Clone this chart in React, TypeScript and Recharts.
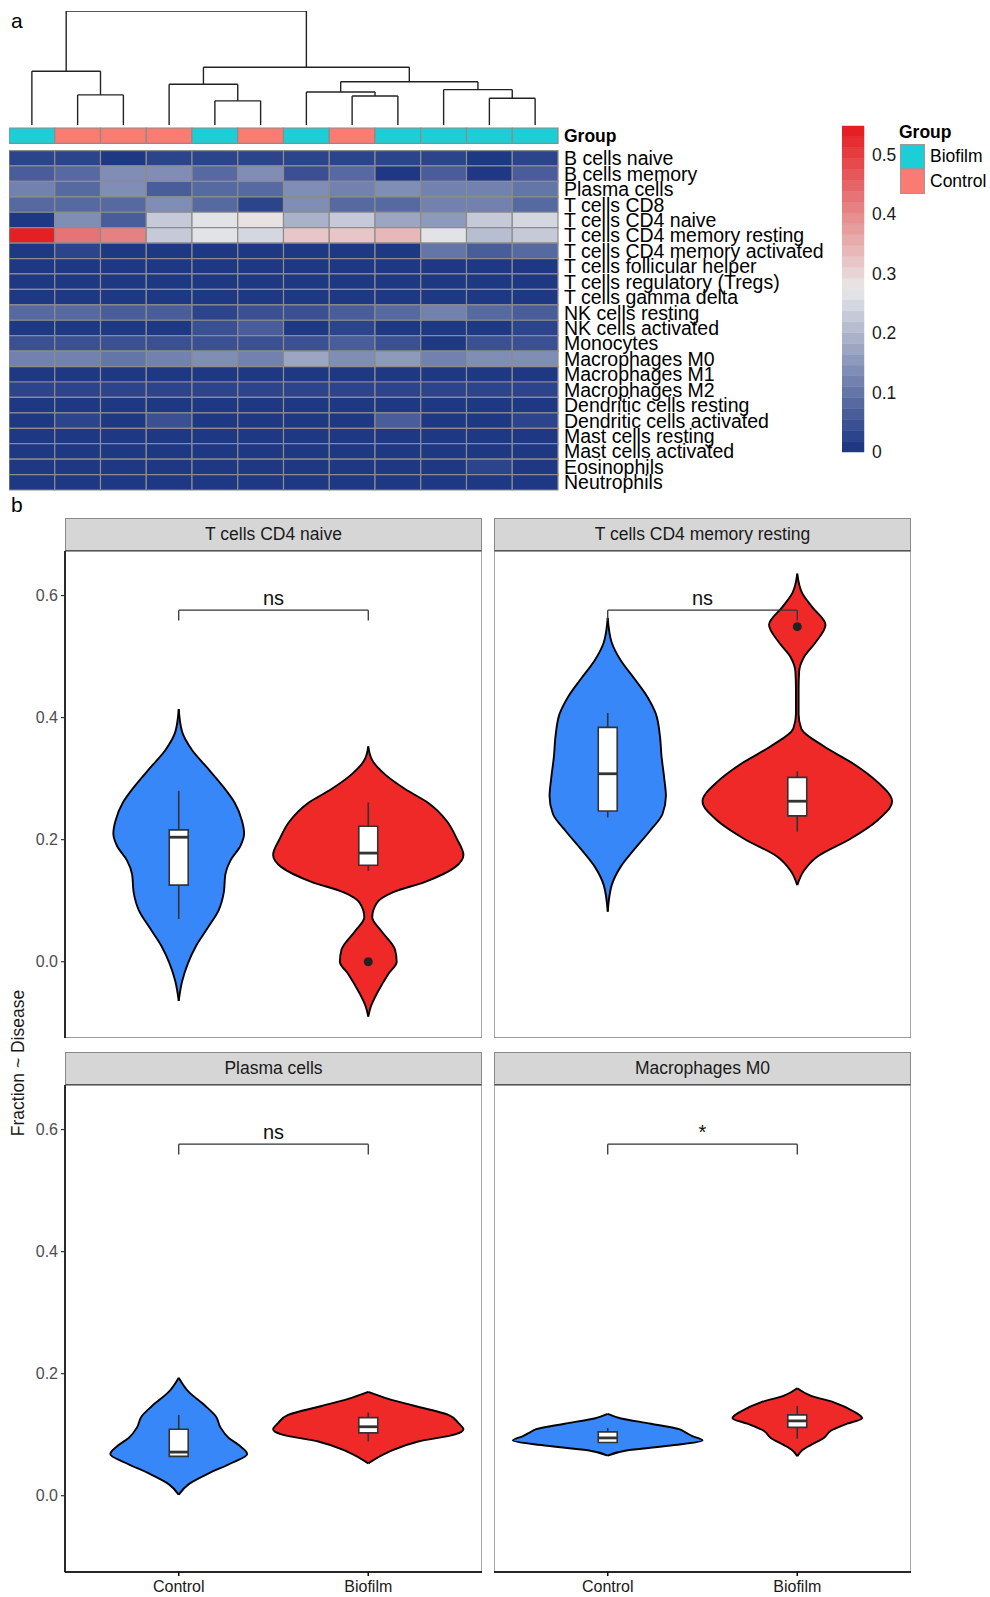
import React from "react";
import { Area, ComposedChart, ReferenceArea, ReferenceDot, ReferenceLine, XAxis, YAxis } from "recharts";

// ---- panel a: heatmap ----
const SAMPLE_GROUPS = [
  "Biofilm", "Control", "Control", "Control", "Biofilm", "Control",
  "Biofilm", "Control", "Biofilm", "Biofilm", "Biofilm", "Biofilm"
];

const CELL_TYPES = [
  "B cells naive",
  "B cells memory",
  "Plasma cells",
  "T cells CD8",
  "T cells CD4 naive",
  "T cells CD4 memory resting",
  "T cells CD4 memory activated",
  "T cells follicular helper",
  "T cells regulatory (Tregs)",
  "T cells gamma delta",
  "NK cells resting",
  "NK cells activated",
  "Monocytes",
  "Macrophages M0",
  "Macrophages M1",
  "Macrophages M2",
  "Dendritic cells resting",
  "Dendritic cells activated",
  "Mast cells resting",
  "Mast cells activated",
  "Eosinophils",
  "Neutrophils"
];

// fraction per cell type (rows) and sample (columns)
const HEAT_VALUES: number[][] = [
  [0.02, 0.02, 0.01, 0.02, 0.02, 0.02, 0.02, 0.02, 0.02, 0.02, 0.01, 0.02],
  [0.07, 0.08, 0.13, 0.13, 0.09, 0.13, 0.04, 0.08, 0.01, 0.06, 0.01, 0.06],
  [0.12, 0.09, 0.14, 0.07, 0.09, 0.08, 0.13, 0.11, 0.13, 0.11, 0.11, 0.1],
  [0.09, 0.08, 0.09, 0.13, 0.08, 0.03, 0.14, 0.08, 0.08, 0.11, 0.12, 0.08],
  [0.01, 0.13, 0.07, 0.22, 0.27, 0.28, 0.19, 0.22, 0.18, 0.16, 0.22, 0.25],
  [0.55, 0.43, 0.41, 0.23, 0.26, 0.24, 0.32, 0.32, 0.34, 0.27, 0.21, 0.23],
  [0.01, 0.03, 0.01, 0.01, 0.01, 0.01, 0.01, 0.01, 0.01, 0.1, 0.07, 0.09],
  [0.01, 0.01, 0.01, 0.01, 0.01, 0.01, 0.01, 0.01, 0.01, 0.01, 0.01, 0.01],
  [0.01, 0.01, 0.01, 0.01, 0.01, 0.01, 0.01, 0.01, 0.01, 0.01, 0.01, 0.01],
  [0.0, 0.0, 0.0, 0.0, 0.0, 0.0, 0.0, 0.0, 0.0, 0.0, 0.0, 0.0],
  [0.09, 0.09, 0.07, 0.06, 0.02, 0.05, 0.04, 0.07, 0.09, 0.12, 0.08, 0.07],
  [0.01, 0.01, 0.01, 0.01, 0.05, 0.07, 0.01, 0.02, 0.01, 0.01, 0.01, 0.02],
  [0.04, 0.05, 0.05, 0.04, 0.04, 0.04, 0.04, 0.06, 0.04, 0.01, 0.05, 0.05],
  [0.12, 0.11, 0.1, 0.11, 0.13, 0.12, 0.17, 0.13, 0.15, 0.11, 0.14, 0.13],
  [0.01, 0.01, 0.01, 0.01, 0.01, 0.01, 0.01, 0.01, 0.01, 0.01, 0.01, 0.01],
  [0.02, 0.02, 0.02, 0.02, 0.02, 0.02, 0.02, 0.02, 0.02, 0.02, 0.02, 0.02],
  [0.01, 0.01, 0.01, 0.01, 0.01, 0.01, 0.01, 0.01, 0.01, 0.01, 0.01, 0.01],
  [0.01, 0.03, 0.01, 0.05, 0.01, 0.01, 0.01, 0.01, 0.06, 0.01, 0.01, 0.03],
  [0.01, 0.01, 0.01, 0.01, 0.01, 0.01, 0.01, 0.01, 0.01, 0.01, 0.01, 0.01],
  [0.01, 0.01, 0.01, 0.01, 0.01, 0.01, 0.01, 0.01, 0.01, 0.01, 0.01, 0.01],
  [0.01, 0.01, 0.01, 0.01, 0.01, 0.01, 0.01, 0.01, 0.01, 0.01, 0.03, 0.01],
  [0.01, 0.01, 0.01, 0.01, 0.01, 0.01, 0.01, 0.01, 0.01, 0.01, 0.01, 0.01]
];

// hclust-style merges: negative = leaf (1-based column), positive = earlier merge; last value = height
const DENDRO_MERGES: [number, number, number][] = [
  [-5, -6, 0.212],
  [-11, -12, 0.235],
  [-8, -9, 0.255],
  [-2, -3, 0.264],
  [-7, 3, 0.29],
  [-10, 2, 0.31],
  [-4, 1, 0.357],
  [5, 6, 0.38],
  [-1, 4, 0.472],
  [7, 8, 0.507],
  [9, 10, 1.0]
];

const LEGEND_TICKS = [0, 0.1, 0.2, 0.3, 0.4, 0.5];
const SCALE_MAX = 0.548;
const N_BINS = 30;

// ---- panel b: violins ----
const GROUPS = ["Control", "Biofilm"];
const PANEL_TITLES = ["T cells CD4 naive", "T cells CD4 memory resting", "Plasma cells", "Macrophages M0"];
const Y_TICKS = [0, 0.2, 0.4, 0.6];

// [fraction, half width of the violin]
const VIOLIN_CONTROL: [number, number][][] = [
  [
    [-0.064, 0], [-0.032, 0.018], [-0.003, 0.048], [0.0263, 0.092], [0.0555, 0.153], [0.0847, 0.211],
    [0.114, 0.238], [0.143, 0.246], [0.166, 0.273], [0.19, 0.326], [0.21, 0.345], [0.2306, 0.334],
    [0.26, 0.296], [0.289, 0.229], [0.318, 0.15], [0.347, 0.07], [0.3766, 0.018], [0.414, 0]
  ],
  [
    [0.082, 0], [0.1255, 0.021], [0.155, 0.067], [0.184, 0.14], [0.213, 0.219], [0.242, 0.289],
    [0.2715, 0.307], [0.301, 0.298], [0.336, 0.284], [0.371, 0.275], [0.406, 0.254], [0.435, 0.207],
    [0.464, 0.14], [0.493, 0.07], [0.523, 0.021], [0.5635, 0]
  ],
  [
    [0.0017, 0], [0.019, 0.053], [0.0366, 0.158], [0.054, 0.282], [0.0685, 0.361], [0.083, 0.317],
    [0.0947, 0.264], [0.112, 0.22], [0.1295, 0.197], [0.147, 0.141], [0.17, 0.053], [0.1934, 0]
  ],
  [
    [0.0656, 0], [0.0744, 0.105], [0.083, 0.351], [0.0906, 0.5], [0.0976, 0.447], [0.1034, 0.412],
    [0.109, 0.377], [0.118, 0.228], [0.1266, 0.07], [0.134, 0]
  ]
];

const VIOLIN_BIOFILM: [number, number][][] = [
  [
    [-0.09, 0], [-0.073, 0.014], [-0.05, 0.049], [-0.02, 0.106], [0.0, 0.15], [0.02, 0.141],
    [0.05, 0.07], [0.073, 0.021], [0.096, 0.044], [0.114, 0.132], [0.131, 0.3], [0.155, 0.458],
    [0.175, 0.502], [0.2015, 0.467], [0.2306, 0.414], [0.26, 0.317], [0.283, 0.194], [0.307, 0.088],
    [0.33, 0.021], [0.353, 0]
  ],
  [
    [0.1255, 0], [0.149, 0.035], [0.172, 0.105], [0.2015, 0.281], [0.231, 0.421], [0.263, 0.5],
    [0.295, 0.421], [0.324, 0.298], [0.353, 0.14], [0.382, 0.021], [0.406, 0.007], [0.447, 0.007],
    [0.476, 0.01], [0.499, 0.035], [0.523, 0.096], [0.552, 0.149], [0.581, 0.079], [0.604, 0.026],
    [0.636, 0]
  ],
  [
    [0.053, 0], [0.0715, 0.106], [0.0889, 0.264], [0.1005, 0.458], [0.109, 0.502], [0.118, 0.479],
    [0.1324, 0.423], [0.147, 0.246], [0.1586, 0.106], [0.17, 0]
  ],
  [
    [0.0645, 0], [0.0744, 0.026], [0.083, 0.07], [0.0947, 0.14], [0.106, 0.175], [0.118, 0.263],
    [0.127, 0.342], [0.138, 0.298], [0.153, 0.193], [0.164, 0.07], [0.176, 0]
  ]
];

// [lower whisker, q1, median, q3, upper whisker]
const BOX_CONTROL = [
  [0.07, 0.1255, 0.204, 0.216, 0.28],
  [0.2365, 0.247, 0.308, 0.384, 0.4076],
  [0.0645, 0.0645, 0.0715, 0.109, 0.1324],
  [0.0871, 0.0871, 0.0947, 0.1046, 0.111]
];
const BOX_BIOFILM = [
  [0.149, 0.158, 0.178, 0.222, 0.261],
  [0.213, 0.239, 0.263, 0.302, 0.312],
  [0.089, 0.103, 0.113, 0.128, 0.1365],
  [0.0935, 0.112, 0.1226, 0.1324, 0.147]
];
const OUTLIERS_BIOFILM = [[0.0], [0.549], [], []];
const SIG_LABELS = ["ns", "ns", "ns", "*"];

const Y_DOMAIN = [-0.125, 0.673];
const X_DOMAIN = [0.4, 2.6];
const BRACKET_TOP = 0.576;
const BRACKET_END = 0.559;
const SIG_TEXT_Y = 0.596;

const FONT = '"Liberation Sans", Arial, Helvetica, sans-serif';
const BLUE = "#3787F9";
const RED = "#EF2828";
const CYAN = "#1CCFD6";
const SALMON = "#FA7B72";
const CELL_BORDER = "#8C8C8C";

const COLOR_LOW = [30, 56, 132];
const COLOR_MID = [233, 233, 233];
const COLOR_HIGH = [228, 32, 36];

function rampColor(t: number): string {
  const [a, b, f] = t < 0.5 ? [COLOR_LOW, COLOR_MID, t / 0.5] : [COLOR_MID, COLOR_HIGH, (t - 0.5) / 0.5];
  const c = a.map((v, i) => Math.round(v + (b[i] - v) * f));
  return `rgb(${c[0]},${c[1]},${c[2]})`;
}

function heatColor(v: number): string {
  const bin = Math.min(N_BINS - 1, Math.max(0, Math.floor((v / SCALE_MAX) * N_BINS)));
  return rampColor(bin / (N_BINS - 1));
}

function dendroSegments() {
  const nodes: { x: number; h: number }[] = [];
  const at = (id: number) => (id < 0 ? { x: -id - 0.5, h: 0 } : nodes[id - 1]);
  const segs: { x: number; y: number }[][] = [];
  for (const [a, b, h] of DENDRO_MERGES) {
    const pa = at(a);
    const pb = at(b);
    segs.push([{ x: pa.x, y: pa.h }, { x: pa.x, y: h }]);
    segs.push([{ x: pb.x, y: pb.h }, { x: pb.x, y: h }]);
    segs.push([{ x: pa.x, y: h }, { x: pb.x, y: h }]);
    nodes.push({ x: (pa.x + pb.x) / 2, h });
  }
  return segs;
}

const ANNOT_TOP = -1.46;
const ANNOT_BOTTOM = -0.46;
const PAD = 12;

function RowTick(props: any) {
  const { x, y, payload } = props;
  const isGroup = payload.value < 0;
  const label = isGroup ? "Group" : CELL_TYPES[Math.floor(payload.value)];
  return (
    <text
      x={x}
      y={y}
      dy="0.36em"
      textAnchor="start"
      fontSize={isGroup ? 17.5 : 19.5}
      fontWeight={isGroup ? 700 : 400}
      fill="#000"
      fontFamily={FONT}
    >
      {label}
    </text>
  );
}

function Heatmap() {
  const rowTicks = [(ANNOT_TOP + ANNOT_BOTTOM) / 2, ...CELL_TYPES.map((_, i) => i + 0.5)];
  return (
    <ComposedChart
      width={549 + 420}
      height={362 + 2 * PAD}
      margin={{ top: PAD, right: 0, bottom: PAD, left: 0 }}
      data={[]}
    >
      <XAxis type="number" dataKey="x" domain={[0, SAMPLE_GROUPS.length]} hide allowDataOverflow />
      <YAxis
        type="number"
        orientation="right"
        reversed
        domain={[ANNOT_TOP, CELL_TYPES.length]}
        allowDataOverflow
        ticks={rowTicks}
        interval={0}
        width={420}
        tickSize={0}
        tickMargin={6}
        axisLine={false}
        tickLine={false}
        tick={(p: any) => <RowTick {...p} />}
      />
      {SAMPLE_GROUPS.map((g, c) => (
        <ReferenceArea
          key={`ann-${c}`}
          x1={c}
          x2={c + 1}
          y1={ANNOT_TOP}
          y2={ANNOT_BOTTOM}
          fill={g === "Biofilm" ? CYAN : SALMON}
          fillOpacity={1}
          stroke={CELL_BORDER}
          strokeWidth={1.2}
        />
      ))}
      {HEAT_VALUES.flatMap((row, r) =>
        row.map((v, c) => (
          <ReferenceArea
            key={`cell-${r}-${c}`}
            x1={c}
            x2={c + 1}
            y1={r}
            y2={r + 1}
            fill={heatColor(v)}
            fillOpacity={1}
            stroke={CELL_BORDER}
            strokeWidth={1.2}
          />
        ))
      )}
    </ComposedChart>
  );
}

function Dendrogram() {
  const segs = dendroSegments();
  return (
    <ComposedChart width={549} height={114} margin={{ top: 0, right: 0, bottom: 0, left: 0 }} data={[]}>
      <XAxis type="number" dataKey="x" domain={[0, SAMPLE_GROUPS.length]} hide allowDataOverflow />
      <YAxis type="number" domain={[0, 1]} hide allowDataOverflow />
      {segs.map((s, i) => (
        <ReferenceLine key={i} segment={s} stroke="#222" strokeWidth={1.4} ifOverflow="visible" />
      ))}
    </ComposedChart>
  );
}

function ColorBar() {
  const bands = Array.from({ length: N_BINS }, (_, i) => i);
  return (
    <ComposedChart width={22 + 60} height={326 + 2 * PAD} margin={{ top: PAD, right: 0, bottom: PAD, left: 0 }} data={[]}>
      <XAxis type="number" dataKey="x" domain={[0, 1]} hide allowDataOverflow />
      <YAxis
        type="number"
        orientation="right"
        domain={[0, SCALE_MAX]}
        allowDataOverflow
        ticks={LEGEND_TICKS}
        interval={0}
        width={60}
        tickSize={0}
        tickMargin={8}
        axisLine={false}
        tickLine={false}
        tickFormatter={(v: number) => (v === 0 ? "0" : v.toFixed(1))}
        tick={{ fontSize: 17.5, fill: "#1a1a1a", fontFamily: FONT }}
      />
      {bands.map((b) => (
        <ReferenceArea
          key={b}
          x1={0}
          x2={1}
          y1={(b * SCALE_MAX) / N_BINS}
          y2={((b + 1) * SCALE_MAX) / N_BINS}
          fill={rampColor(b / (N_BINS - 1))}
          fillOpacity={1}
          stroke={rampColor(b / (N_BINS - 1))}
          strokeWidth={0.5}
        />
      ))}
    </ComposedChart>
  );
}

function buildViolinRows(control: [number, number][], biofilm: [number, number][]) {
  const ys = Array.from(new Set([...control.map((p) => p[0]), ...biofilm.map((p) => p[0])])).sort((a, b) => a - b);
  return ys.map((y) => {
    const c = control.find((p) => p[0] === y);
    const b = biofilm.find((p) => p[0] === y);
    return {
      y,
      control: c ? [1 - c[1], 1 + c[1]] : [null, null],
      biofilm: b ? [2 - b[1], 2 + b[1]] : [null, null]
    };
  });
}

function BoxMarks(center: number, stats: number[], key: string) {
  const [lo, q1, med, q3, hi] = stats;
  const half = 0.05;
  return [
    lo < q1 ? (
      <ReferenceLine key={`${key}-wl`} segment={[{ x: center, y: lo }, { x: center, y: q1 }]} stroke="#333" strokeWidth={1.6} />
    ) : null,
    hi > q3 ? (
      <ReferenceLine key={`${key}-wh`} segment={[{ x: center, y: q3 }, { x: center, y: hi }]} stroke="#333" strokeWidth={1.6} />
    ) : null,
    <ReferenceArea
      key={`${key}-box`}
      x1={center - half}
      x2={center + half}
      y1={q1}
      y2={q3}
      fill="#fff"
      fillOpacity={1}
      stroke="#333"
      strokeWidth={1.6}
    />,
    <ReferenceLine
      key={`${key}-med`}
      segment={[{ x: center - half, y: med }, { x: center + half, y: med }]}
      stroke="#333"
      strokeWidth={2.8}
    />
  ];
}

function ViolinPanel({ index, left, top, showY, showX }: { index: number; left: number; top: number; showY: boolean; showX: boolean }) {
  const rows = buildViolinRows(VIOLIN_CONTROL[index], VIOLIN_BIOFILM[index]);
  const yAxisW = showY ? 65 : 0;
  const plotW = 417;
  const plotH = 487;
  const xAxisH = showX ? 26 : 0;
  return (
    <>
      <div
        style={{
          position: "absolute",
          left: left + yAxisW,
          top: top - 33,
          width: plotW,
          height: 33,
          boxSizing: "border-box",
          background: "#D6D6D6",
          border: "1px solid #8a8a8a",
          borderBottom: "1.5px solid #555",
          fontSize: 17.5,
          color: "#1a1a1a",
          textAlign: "center",
          lineHeight: "31px",
          fontFamily: FONT
        }}
      >
        {PANEL_TITLES[index]}
      </div>
      <div style={{ position: "absolute", left, top }}>
        <ComposedChart
          layout="vertical"
          width={yAxisW + plotW}
          height={plotH + xAxisH}
          data={rows}
          margin={{ top: 0, right: 0, bottom: 0, left: 0 }}
        >
          <XAxis
            type="number"
            domain={X_DOMAIN}
            allowDataOverflow
            hide={!showX}
            ticks={[1, 2]}
            interval={0}
            height={xAxisH}
            tickFormatter={(v: number) => GROUPS[v - 1]}
            tickSize={4}
            tickMargin={5}
            axisLine={{ stroke: "#000", strokeWidth: 1.5 }}
            tickLine={{ stroke: "#000", strokeWidth: 1.5 }}
            tick={{ fontSize: 16, fill: "#1a1a1a", fontFamily: FONT }}
          />
          <YAxis
            type="number"
            dataKey="y"
            reversed
            domain={Y_DOMAIN}
            allowDataOverflow
            hide={!showY}
            ticks={Y_TICKS}
            interval={0}
            width={yAxisW}
            tickFormatter={(v: number) => v.toFixed(1)}
            tickSize={4}
            tickMargin={3}
            axisLine={{ stroke: "#000", strokeWidth: 1.5 }}
            tickLine={{ stroke: "#333", strokeWidth: 1.2 }}
            tick={{ fontSize: 16, fill: "#4d4d4d", fontFamily: FONT }}
          />
          <ReferenceArea
            x1={X_DOMAIN[0]}
            x2={X_DOMAIN[1]}
            y1={Y_DOMAIN[0]}
            y2={Y_DOMAIN[1]}
            fill="none"
            stroke="#7a7a7a"
            strokeWidth={1.3}
          />
          <Area
            dataKey="control"
            type="monotone"
            connectNulls
            fill={BLUE}
            fillOpacity={1}
            stroke="#000"
            strokeWidth={1.9}
            dot={false}
            activeDot={false}
            isAnimationActive={false}
          />
          <Area
            dataKey="biofilm"
            type="monotone"
            connectNulls
            fill={RED}
            fillOpacity={1}
            stroke="#000"
            strokeWidth={1.9}
            dot={false}
            activeDot={false}
            isAnimationActive={false}
          />
          {BoxMarks(1, BOX_CONTROL[index], "c")}
          {BoxMarks(2, BOX_BIOFILM[index], "b")}
          {OUTLIERS_BIOFILM[index].map((v, i) => (
            <ReferenceDot key={`o-${i}`} x={2} y={v} r={4.5} fill="#222" stroke="none" />
          ))}
          <ReferenceLine segment={[{ x: 1, y: BRACKET_TOP }, { x: 2, y: BRACKET_TOP }]} stroke="#333" strokeWidth={1.3} />
          <ReferenceLine segment={[{ x: 1, y: BRACKET_END }, { x: 1, y: BRACKET_TOP }]} stroke="#333" strokeWidth={1.3} />
          <ReferenceLine segment={[{ x: 2, y: BRACKET_END }, { x: 2, y: BRACKET_TOP }]} stroke="#333" strokeWidth={1.3} />
          <ReferenceDot
            x={1.5}
            y={SIG_TEXT_Y}
            r={0}
            fill="none"
            stroke="none"
            label={{ value: SIG_LABELS[index], position: "center", fontSize: 20, fill: "#111", fontFamily: FONT }}
          />
        </ComposedChart>
      </div>
    </>
  );
}

export default function App() {
  return (
    <div
      style={{
        position: "absolute",
        left: 0,
        top: 0,
        width: 990,
        height: 1597,
        background: "#fff",
        overflow: "hidden",
        fontFamily: FONT
      }}
    >
      <style>{"body{margin:0;overflow:hidden}"}</style>
      <div style={{ position: "absolute", left: 11, top: 8, fontSize: 21, lineHeight: "26px" }}>a</div>
      <div style={{ position: "absolute", left: 11, top: 492, fontSize: 21, lineHeight: "26px" }}>b</div>

      <div style={{ position: "absolute", left: 9, top: 11 }}>
        <Dendrogram />
      </div>
      <div style={{ position: "absolute", left: 9, top: 128 - PAD }}>
        <Heatmap />
      </div>
      <div style={{ position: "absolute", left: 842, top: 126 - PAD }}>
        <ColorBar />
      </div>

      <div style={{ position: "absolute", left: 899, top: 121, fontSize: 17.5, fontWeight: 700, lineHeight: "22px" }}>Group</div>
      {["Biofilm", "Control"].map((g, i) => (
        <React.Fragment key={g}>
          <div
            style={{
              position: "absolute",
              left: 900,
              top: 143.5 + i * 25,
              width: 25,
              height: 25,
              boxSizing: "border-box",
              background: g === "Biofilm" ? CYAN : SALMON,
              border: "1px solid #9a9a9a"
            }}
          />
          <div style={{ position: "absolute", left: 930, top: 143.5 + i * 25, fontSize: 17.5, lineHeight: "25px" }}>{g}</div>
        </React.Fragment>
      ))}

      <ViolinPanel index={0} left={0} top={551} showY showX={false} />
      <ViolinPanel index={1} left={494} top={551} showY={false} showX={false} />
      <ViolinPanel index={2} left={0} top={1085} showY showX />
      <ViolinPanel index={3} left={494} top={1085} showY={false} showX />

      <div
        style={{
          position: "absolute",
          left: 18,
          top: 1063,
          transform: "translate(-50%, -50%) rotate(-90deg)",
          whiteSpace: "nowrap",
          fontSize: 17.5,
          color: "#1a1a1a"
        }}
      >
        Fraction ~ Disease
      </div>
    </div>
  );
}
